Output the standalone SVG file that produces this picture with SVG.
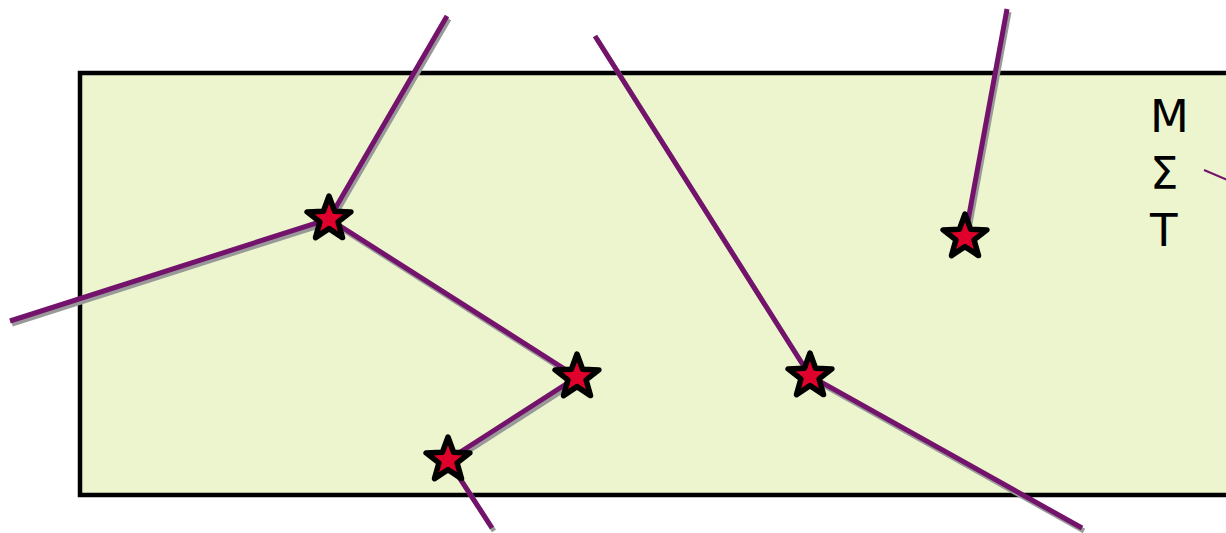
<svg xmlns="http://www.w3.org/2000/svg" width="1226" height="533" viewBox="0 0 1226 533">
<style>
.ln{stroke:#74136b;stroke-width:5;fill:none}
.sh{stroke:#999999;stroke-width:5;fill:none}
.st{fill:#e0002c;stroke:#000;stroke-width:5.5;stroke-linejoin:round}
.tx{font-family:"DejaVu Sans",sans-serif;font-size:45px;fill:#000}
</style>
<defs>
<polygon id="star" points="0,-23 5.6,-7.7 21.9,-7.1 9.1,2.9 13.5,18.6 0,9.6 -13.5,18.6 -9.1,2.9 -21.9,-7.1 -5.6,-7.7"/>
</defs>
<rect id="region" x="80" y="73" width="1160" height="422" fill="#ecf5cd" stroke="#000" stroke-width="4.5"/>
<g id="connectors">
<g transform="translate(2,3)">
<path class="sh" d="M447,16 L329,219 M10,321 L329,219 L577,377 L448,460 L492,528 M595,36 L810,376 L1082,528 M1007,9 L965,237"/>
</g>
<path class="ln" d="M447,16 L329,219 M10,321 L329,219 L577,377 L448,460 L492,528 M595,36 L810,376 L1082,528 M1007,9 L965,237"/>
<path d="M1204,170 L1230,181" stroke="#74136b" stroke-width="2" fill="none"/>
</g>
<g id="n1"><use href="#star" class="st" x="329" y="219"/></g>
<g id="n2"><use href="#star" class="st" x="577" y="377"/></g>
<g id="n3"><use href="#star" class="st" x="448" y="460"/></g>
<g id="n4"><use href="#star" class="st" x="810" y="376"/></g>
<g id="n5"><use href="#star" class="st" x="965" y="237"/></g>
<g id="label">
<text class="tx" x="1150" y="132">M</text>
<text class="tx" x="1150" y="189">Σ</text>
<text class="tx" x="1150" y="246">T</text>
</g>
</svg>
